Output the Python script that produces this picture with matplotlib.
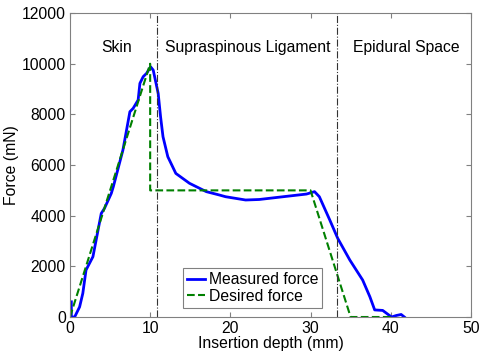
# Fuerza de inserción medida vs deseada

import numpy as np
import matplotlib.pyplot as plt

plt.rcParams['font.family'] = ['Liberation Sans', 'DejaVu Sans']

# Datos
meas_x = [0.17, 0.17, 0.58, 1.2, 1.6, 2.0, 2.86, 3.9, 4.3, 5.15, 5.4, 6.6, 7.47, 7.88,
          8.5, 8.72, 9.13, 9.55, 10.05, 10.38, 11.0, 11.3, 11.6, 12.2, 13.2, 14.9, 17.0,
          18.6, 19.4, 21.9, 23.6, 26.6, 29.5, 30.5, 31.1, 32.4, 33.4, 34.9, 36.5, 37.4,
          38.0, 39.0, 40.1, 40.7, 41.3, 41.7]
meas_y = [600, 0, 0, 400, 935, 1855, 2380, 4090, 4290, 4880, 5140, 6590, 8105, 8240,
          8570, 9225, 9490, 9620, 9880, 9750, 8830, 7900, 7120, 6330, 5670, 5280, 4950,
          4820, 4750, 4620, 4640, 4750, 4855, 4950, 4750, 3830, 3100, 2250, 1460, 800,
          280, 260, 0, 60, 100, 0]

des_x = [0, 10, 10, 30, 35, 40]
des_y = [0, 10000, 5000, 5000, 0, 0]

limites = [10.9, 33.3]
regiones = ['Skin', 'Supraspinous Ligament', 'Epidural Space']
pos_regiones = [5.8, 22.2, 42.0]

fs = 11.3
fig = plt.figure(figsize=(4.81, 3.54), dpi=100)
ax = fig.add_axes([0.1455, 0.1045, 0.8335, 0.8585])

ax.plot(meas_x, meas_y, color='blue', linewidth=2, label='Measured force')
ax.plot(des_x, des_y, color='#008000', linestyle='--', linewidth=1.5, label='Desired force')

for xl in limites:
    ax.axvline(xl, color='#333333', linestyle='-.', linewidth=0.8)

for txt, xp in zip(regiones, pos_regiones):
    ax.text(xp, 10650, txt, ha='center', va='center', fontsize=fs)

ax.set_xlim(0, 50)
ax.set_ylim(0, 12000)
ax.set_xticks(np.arange(0, 51, 10))
ax.set_yticks(np.arange(0, 12001, 2000))
ax.tick_params(direction='in', top=True, right=True, labelsize=fs, color='#808080', pad=3)
for s in ax.spines.values():
    s.set_color('#808080')
    s.set_linewidth(0.8)
ax.set_xlabel('Insertion depth (mm)', fontsize=fs, labelpad=0)
ax.set_ylabel('Force (mN)', fontsize=fs, labelpad=2)

leg = ax.legend(loc='lower center', bbox_to_anchor=(0.455, 0.03), fontsize=fs,
                fancybox=False, framealpha=1, edgecolor='#808080',
                handlelength=1.2, handletextpad=0.2, borderpad=0.25, labelspacing=0.1,
                borderaxespad=0)
leg.get_frame().set_linewidth(0.8)

fig.savefig('out.png', dpi=100)
